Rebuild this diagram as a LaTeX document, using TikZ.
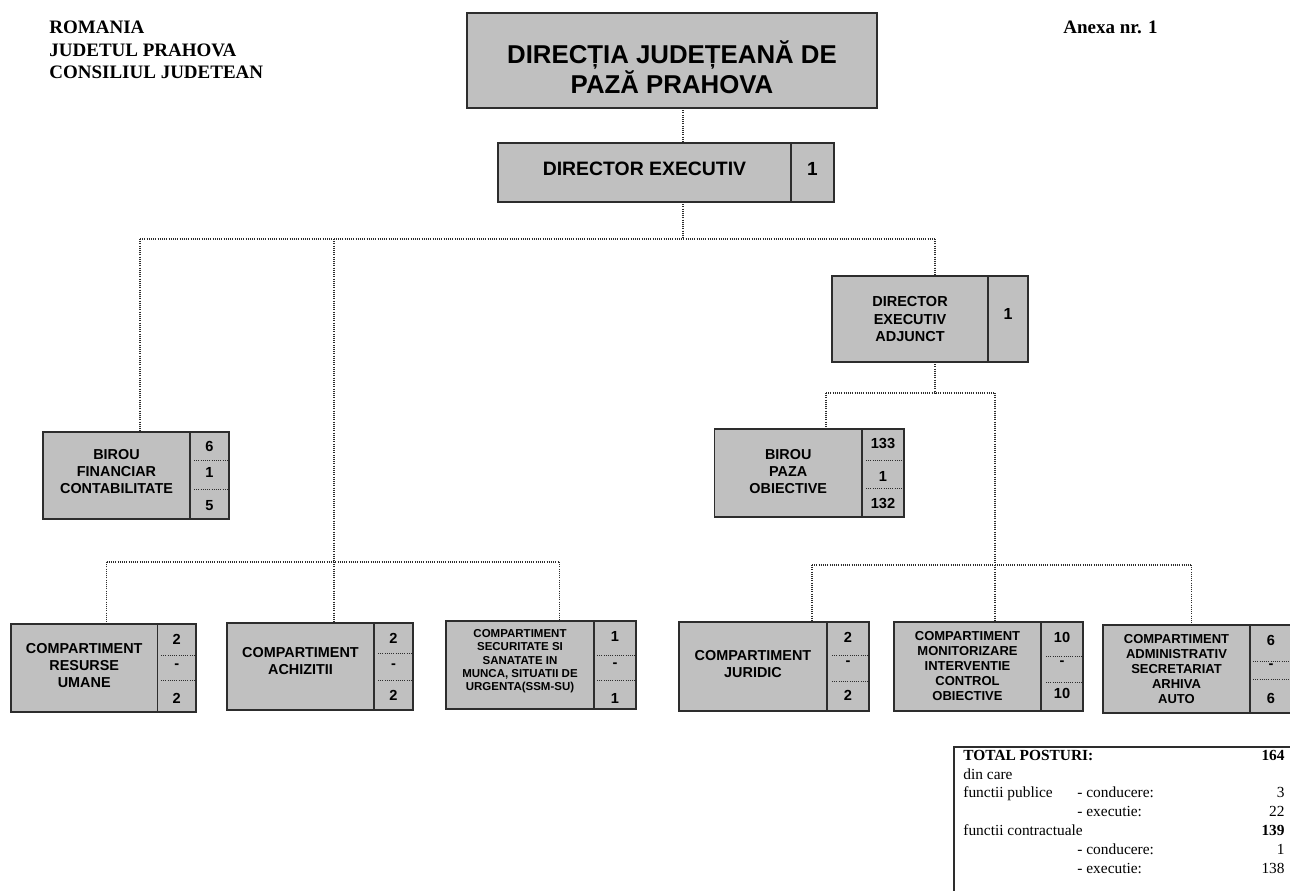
\documentclass[tikz,border=0pt]{standalone}
\usepackage{fontspec}
\setmainfont{Liberation Serif}
\setsansfont{Liberation Sans}
\usepackage{xcolor}
\usepackage{tikz}
\usetikzlibrary{positioning}

\definecolor{boxfill}{RGB}{192,192,192}
\definecolor{boxline}{RGB}{45,45,45}
\definecolor{linkgray}{RGB}{45,45,45}

\tikzset{
  unitbox/.style={draw=boxline, fill=boxfill, line width=0.6pt, inner sep=1pt, outer sep=0pt,
    align=center, font=\sffamily\bfseries\fontsize{7.2}{8.5}\selectfont},
  nrcol/.style={draw=boxline, fill=boxfill, line width=0.6pt, inner sep=0pt, outer sep=0pt, anchor=west},
  nrtext/.style={inner sep=0pt, font=\sffamily\bfseries\fontsize{7.3}{8}\selectfont},
  orglink/.style={draw=linkgray, line width=0.6pt, dash pattern=on 0.5pt off 0.6pt},
  dotsep/.style={draw=linkgray, line width=0.5pt, dash pattern=on 0.5pt off 0.6pt},
  headtext/.style={anchor=base west, inner sep=0pt, font=\bfseries\fontsize{9.5}{11}\selectfont},
  tabtext/.style={inner sep=0pt, font=\fontsize{7.7}{9}\selectfont},
}

\begin{document}
\begin{tikzpicture}[x=0.5pt,y=-0.5pt]
\path[use as bounding box, fill=white] (0,0) rectangle (1290,890);

% antet
\node[headtext] (hdr1) at (49,33.5) {ROMANIA};
\node[headtext] (hdr2) at (49,56) {JUDETUL PRAHOVA};
\node[headtext] (hdr3) at (49,78.5) {CONSILIUL JUDETEAN};
\node[headtext] (anexa) at (1063,33.5) {Anexa nr. 1};

% conducere
\node[unitbox, minimum width=205pt, minimum height=47.5pt] (title) at (672,60.5) {};
\node[inner sep=0pt, align=center, font=\sffamily\bfseries\fontsize{12.9}{15}\selectfont] (titletxt) at (672,67) {DIRECȚIA JUDEȚEANĂ DE\\PAZĂ PRAHOVA};

\node[unitbox, minimum width=146.5pt, minimum height=29.5pt, text depth=3.5pt, font=\sffamily\bfseries\fontsize{9.7}{11}\selectfont] (de) at (644.5,172.5) {DIRECTOR EXECUTIV};
\node[nrcol, minimum width=21.5pt, minimum height=29.5pt] (de-n) at (de.east) {};
\node[nrtext, font=\sffamily\bfseries\fontsize{9.5}{11}\selectfont] (de-n1) at (de-n |- 0,169) {1};

\node[unitbox, minimum width=78pt, minimum height=43pt, font=\sffamily\bfseries\fontsize{7.25}{8.8}\selectfont] (dea) at (910,319) {DIRECTOR\\EXECUTIV\\ADJUNCT};
\node[nrcol, minimum width=20pt, minimum height=43pt] (dea-n) at (dea.east) {};
\node[nrtext, font=\sffamily\bfseries\fontsize{8}{9}\selectfont] (dea-n1) at (dea-n |- 0,314) {1};

% birouri
\node[unitbox, minimum width=73.5pt, minimum height=43.5pt, text depth=4.5pt] (bf) at (116.5,475.5) {BIROU\\FINANCIAR\\CONTABILITATE};
\node[nrcol, minimum width=19.5pt, minimum height=43.5pt] (bf-n) at (bf.east) {};
\node[nrtext] (bf-n1) at (bf-n |- 0,446) {6};
\node[nrtext] (bf-n2) at (bf-n |- 0,472) {1};
\node[nrtext] (bf-n3) at (bf-n |- 0,506) {5};
\draw[dotsep] (194,460) -- (229,460);
\draw[dotsep] (194,489) -- (229,489);

\node[unitbox, minimum width=73.75pt, minimum height=44pt, text depth=2pt] (bp) at (788.25,473) {BIROU\\PAZA\\OBIECTIVE};
\node[nrcol, minimum width=21pt, minimum height=44pt] (bp-n) at (bp.east) {};
\node[nrtext] (bp-n1) at (bp-n |- 0,443) {133};
\node[nrtext] (bp-n2) at (bp-n |- 0,476) {1};
\node[nrtext] (bp-n3) at (bp-n |- 0,503) {132};
\draw[dotsep] (866,460) -- (904,460);
\draw[dotsep] (866,488) -- (904,488);

% compartimente
\node[unitbox, minimum width=73.25pt, minimum height=44pt, text depth=3pt] (ru) at (84.25,668) {COMPARTIMENT\\RESURSE\\UMANE};
\node[nrcol, minimum width=19.25pt, minimum height=44pt] (ru-n) at (ru.east) {};
\node[nrtext] (ru-n1) at (ru-n |- 0,639) {2};
\node[nrtext] (ru-n2) at (ru-n |- 0,666) {-};
\node[nrtext] (ru-n3) at (ru-n |- 0,698) {2};
\draw[dotsep] (161,655) -- (196,655);
\draw[dotsep] (161,680) -- (198,680);

\node[unitbox, minimum width=73.5pt, minimum height=43.5pt, text depth=6pt] (ach) at (300.5,666.5) {COMPARTIMENT\\ACHIZITII};
\node[nrcol, minimum width=19.5pt, minimum height=43.5pt] (ach-n) at (ach.east) {};
\node[nrtext] (ach-n1) at (ach-n |- 0,638) {2};
\node[nrtext] (ach-n2) at (ach-n |- 0,666) {-};
\node[nrtext] (ach-n3) at (ach-n |- 0,695) {2};
\draw[dotsep] (378,653) -- (412,653);
\draw[dotsep] (378,680) -- (412,680);

\node[unitbox, minimum width=74pt, minimum height=44pt, text depth=5pt, font=\sffamily\bfseries\fontsize{5.75}{6.65}\selectfont] (ssm) at (520,665) {COMPARTIMENT\\SECURITATE SI\\SANATATE IN\\MUNCA, SITUATII DE\\URGENTA(SSM-SU)};
\node[nrcol, minimum width=21pt, minimum height=44pt] (ssm-n) at (ssm.east) {};
\draw[boxline, line width=1.1pt] (ssm.north east) -- (ssm.south east);
\node[nrtext] (ssm-n1) at (ssm-n |- 0,636) {1};
\node[nrtext] (ssm-n2) at (ssm-n |- 0,665) {-};
\node[nrtext] (ssm-n3) at (ssm-n |- 0,698) {1};
\draw[dotsep] (597,655) -- (636,655);
\draw[dotsep] (597,680) -- (636,680);

\node[unitbox, minimum width=74pt, minimum height=44.5pt, text depth=2.5pt] (jur) at (753,666.5) {COMPARTIMENT\\JURIDIC};
\node[nrcol, minimum width=21pt, minimum height=44.5pt] (jur-n) at (jur.east) {};
\node[nrtext] (jur-n1) at (jur-n |- 0,637) {2};
\node[nrtext] (jur-n2) at (jur-n |- 0,663) {-};
\node[nrtext] (jur-n3) at (jur-n |- 0,695) {2};
\draw[dotsep] (832,655) -- (868,655);
\draw[dotsep] (832,681) -- (868,681);

\node[unitbox, minimum width=73.5pt, minimum height=44.5pt, font=\sffamily\bfseries\fontsize{6.5}{7.5}\selectfont] (mon) at (967.5,666.5) {COMPARTIMENT\\MONITORIZARE\\INTERVENTIE\\CONTROL\\OBIECTIVE};
\node[nrcol, minimum width=21pt, minimum height=44.5pt] (mon-n) at (mon.east) {};
\node[nrtext] (mon-n1) at (mon-n |- 0,637) {10};
\node[nrtext] (mon-n2) at (mon-n |- 0,663) {-};
\node[nrtext] (mon-n3) at (mon-n |- 0,693) {10};
\draw[dotsep] (1046,656) -- (1082,656);
\draw[dotsep] (1046,682) -- (1082,682);

\node[unitbox, minimum width=73.5pt, minimum height=44pt, font=\sffamily\bfseries\fontsize{6.5}{7.5}\selectfont] (adm) at (1176.5,669) {COMPARTIMENT\\ADMINISTRATIV\\SECRETARIAT\\ARHIVA\\AUTO};
\node[nrcol, minimum width=21pt, minimum height=44pt] (adm-n) at (adm.east) {};
\draw[boxline, line width=1.1pt] (adm.north east) -- (adm.south east);
\node[nrtext] (adm-n1) at (adm-n |- 0,640) {6};
\node[nrtext] (adm-n2) at (adm-n |- 0,666) {-};
\node[nrtext] (adm-n3) at (adm-n |- 0,698) {6};
\draw[dotsep] (1253,661) -- (1292,661);
\draw[dotsep] (1253,679) -- (1292,679);

% puncte de legatura
\coordinate (j1) at (140,239);
\coordinate (j2) at (334,239);
\coordinate (j3) at (683,239);
\coordinate (j4) at (935,239);
\coordinate (k1) at (106.5,562);
\coordinate (k2) at (334,562);
\coordinate (k3) at (559.5,562);
\coordinate (m1) at (826,393);
\coordinate (m2) at (935,393);
\coordinate (m3) at (995,393);
\coordinate (n1) at (812,565);
\coordinate (n2) at (995,565);
\coordinate (n3) at (1191.5,565);

% legaturi
\draw[orglink] (title.south -| j3) -- (de.north -| j3);
\draw[orglink] (de.south -| j3) -- (j3);
\draw[orglink] (j1) -- (j4);
\draw[orglink] (j1) -- (bf.north -| j1);
\draw[orglink] (j4) -- (dea.north -| j4);
\draw[orglink] (j2) -- (k2);
\draw[orglink] (k1) -- (k3);
\draw[orglink] (k1) -- (ru.north -| k1);
\draw[orglink] (k2) -- (ach.north -| k2);
\draw[orglink] (k3) -- (ssm.north -| k3);
\draw[orglink] (dea.south -| m2) -- (m2);
\draw[orglink] (m1) -- (m3);
\draw[orglink] (m1) -- (bp.north -| m1);
\draw[orglink] (m3) -- (n2);
\draw[orglink] (n1) -- (n3);
\draw[orglink] (n1) -- (jur.north -| n1);
\draw[orglink] (n2) -- (mon.north -| n2);
\draw[orglink] (n3) -- (adm.north -| n3);

% total posturi
\draw[boxline, line width=0.6pt] (954,747) rectangle (1300,900);
\node[tabtext, anchor=base west] (tot) at (963,760) {\bfseries TOTAL POSTURI:};
\node[tabtext, anchor=base east] (tot-n) at (1285,760) {\bfseries 164};
\node[tabtext, anchor=base west] (din) at (963,779) {din care};
\node[tabtext, anchor=base west] (fp) at (963,797.5) {functii publice};
\node[tabtext, anchor=base west] (fp-c) at (1077,797.5) {- conducere:};
\node[tabtext, anchor=base east] (fp-cn) at (1285,797.5) {3};
\node[tabtext, anchor=base west] (fp-e) at (1077,816.5) {- executie:};
\node[tabtext, anchor=base east] (fp-en) at (1285,816.5) {22};
\node[tabtext, anchor=base west] (fc) at (963,835) {functii contractuale};
\node[tabtext, anchor=base east] (fc-n) at (1285,835) {\bfseries 139};
\node[tabtext, anchor=base west] (fc-c) at (1077,854) {- conducere:};
\node[tabtext, anchor=base east] (fc-cn) at (1285,854) {1};
\node[tabtext, anchor=base west] (fc-e) at (1077,873) {- executie:};
\node[tabtext, anchor=base east] (fc-en) at (1285,873) {138};
\end{tikzpicture}
\end{document}
